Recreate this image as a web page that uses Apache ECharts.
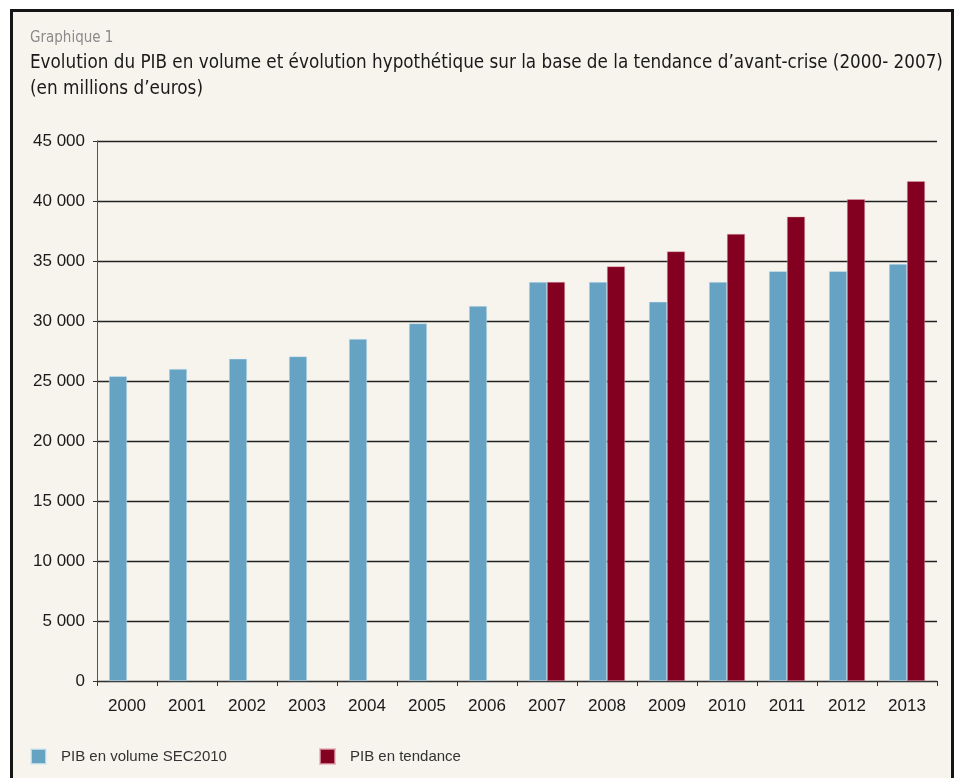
<!DOCTYPE html>
<html>
<head>
<meta charset="utf-8">
<script src="https://cdn.jsdelivr.net/npm/echarts@6/dist/echarts.min.js"></script>
<style>
  html, body { margin: 0; padding: 0; background: #fff; }
  #frame {
    position: absolute; left: 10px; top: 9px;
    width: 938px; height: 800px;
    background: #f7f4ee; border: 3px solid #151515;
  }
  #chart { position: absolute; left: 0; top: 0; width: 957px; height: 778px; }
</style>
</head>
<body>
<div id="frame"></div>
<div id="chart"></div>
<script>
const years = ['2000', '2001', '2002', '2003', '2004', '2005', '2006',
  '2007', '2008', '2009', '2010', '2011', '2012', '2013'];
const pibVolume = [25400, 26000, 26850, 27050, 28500, 29800, 31250,
  33250, 33250, 31600, 33250, 34150, 34150, 34750];
const pibTendance = [null, null, null, null, null, null, null,
  33250, 34550, 35800, 37250, 38700, 40150, 41650];
const yTicks = ['0', '5 000', '10 000', '15 000', '20 000', '25 000', '30 000', '35 000', '40 000', '45 000'];

const condensed = '"Liberation Sans Narrow", "DejaVu Sans Condensed", sans-serif';

var myChart = echarts.init(document.getElementById('chart'));

myChart.setOption({
  backgroundColor: 'transparent',
  animation: false,
  textStyle: {
    fontFamily: '"Liberation Sans", Arial, sans-serif',
    color: '#222'
  },
  title: [{
    text: 'Graphique 1',
    left: 30,
    top: 31,
    padding: 0,
    textStyle: {fontFamily: condensed, fontSize: 15, fontWeight: 'normal', color: '#8a8a8a'}
  }, {
    text: 'Evolution du PIB en volume et évolution hypothétique sur la base de la tendance d\u2019avant-crise (2000- 2007)',
    left: 30,
    top: 54,
    padding: 0,
    textStyle: {fontFamily: condensed, fontSize: 18.7, fontWeight: 'normal', color: '#1a1a1a'}
  }, {
    text: '(en millions d\u2019euros)',
    left: 30,
    top: 80,
    padding: 0,
    textStyle: {fontFamily: condensed, fontSize: 18.8, fontWeight: 'normal', color: '#1a1a1a'}
  }],
  legend: [{
    left: 30,
    top: 748,
    padding: 0,
    itemWidth: 15,
    itemHeight: 15,
    icon: 'rect',
    data: ['PIB en volume SEC2010'],
    textStyle: {fontSize: 15, color: '#333', padding: [0, 0, 0, 10]}
  }, {
    left: 319,
    top: 748,
    padding: 0,
    itemWidth: 15,
    itemHeight: 15,
    icon: 'rect',
    data: ['PIB en tendance'],
    textStyle: {fontSize: 15, color: '#333', padding: [0, 0, 0, 10]}
  }],
  grid: {
    left: 97,
    right: 20,
    top: 141,
    bottom: 97
  },
  xAxis: {
    type: 'category',
    data: years,
    axisLine: {lineStyle: {color: '#333', width: 1}},
    axisTick: {show: true, length: 5, lineStyle: {color: '#333'}},
    axisLabel: {fontSize: 17, color: '#1a1a1a', margin: 17}
  },
  yAxis: {
    type: 'value',
    min: 0,
    max: 45000,
    interval: 5000,
    axisLine: {show: true, lineStyle: {color: '#555', width: 1}},
    axisTick: {show: true, length: 4, lineStyle: {color: '#333'}},
    splitLine: {lineStyle: {color: '#222', width: 1.3}},
    axisLabel: {
      fontSize: 17,
      color: '#1a1a1a',
      margin: 12,
      formatter: (val) => yTicks[Math.round(val / 5000)]
    }
  },
  series: [{
    name: 'PIB en volume SEC2010',
    type: 'bar',
    data: pibVolume,
    barGap: '0%',
    barCategoryGap: '40%',
    itemStyle: {color: '#66a3c3', borderColor: 'rgba(220,235,242,0.7)', borderWidth: 0.6}
  }, {
    name: 'PIB en tendance',
    type: 'bar',
    data: pibTendance,
    barGap: '0%',
    barCategoryGap: '40%',
    itemStyle: {color: '#830020', borderColor: 'rgba(230,170,185,0.7)', borderWidth: 0.6}
  }]
});
</script>
</body>
</html>
